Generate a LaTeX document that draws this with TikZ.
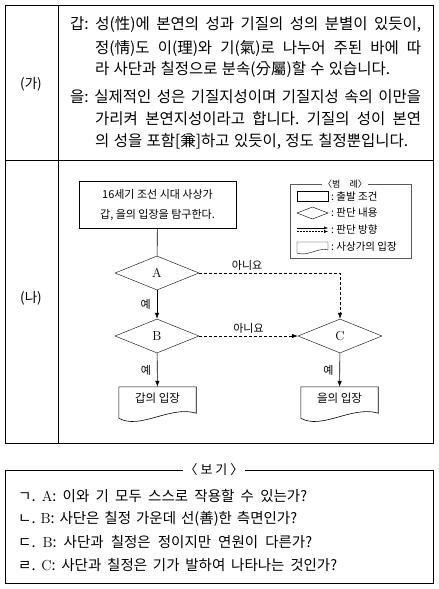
\documentclass[tikz,border=0pt]{standalone}
\usepackage{fontspec}
\newfontfamily\kr{Noto Sans CJK KR}
\usetikzlibrary{shapes.geometric,arrows.meta,positioning}
\newcommand{\fs}[1]{\fontsize{#1}{#1}\selectfont}
\frenchspacing

\tikzset{
  decision/.style={draw,diamond,inner sep=0pt,minimum width=84pt,minimum height=34pt,font=\fs{13}},
  topicbox/.style={draw,rectangle,minimum width=157pt,minimum height=47pt,align=center,font=\kr\fontsize{11}{20}\selectfont},
  docbox/.style={minimum width=77pt,minimum height=22pt,inner sep=0pt,font=\kr\fs{11.5}},
  flow/.style={-{Latex[length=6pt,width=4.5pt]},semithick},
  noflow/.style={flow,dash pattern=on 3pt off 2pt},
  lbl/.style={font=\kr\fs{11}},
  para/.style={anchor=west,inner sep=0pt,font=\kr\fs{15.5}},
  legtext/.style={anchor=west,inner sep=0pt,font=\kr\fs{10.5}},
}

\begin{document}
\begin{tikzpicture}[x=1pt,y=-1pt]
\useasboundingbox (0,0) rectangle (439,589);
% table
\draw[line width=0.8pt] (5,5) rectangle (433,443);
\draw[line width=0.8pt] (5,160) -- (433,160);
\draw[line width=0.8pt] (58,5) -- (58,443);
\node[font=\kr\fs{13.5}] (ga) at (31,84) {(가)};
\node[font=\kr\fs{13.5}] (na) at (31,298) {(나)};

% (ga) text
\foreach \x/\y/\w/\t [count=\i] in {
  70/25/351/{갑: 성(性)에 본연의 성과 기질의 성의 분별이 있듯이,},
  95/48/326/{정(情)도 이(理)와 기(氣)로 나누어 주된 바에 따},
  95/70/295/{라 사단과 칠정으로 분속(分屬)할 수 있습니다.},
  70/97/351/{을: 실제적인 성은 기질지성이며 기질지성 속의 이만을},
  95/119/326/{가리켜 본연지성이라고 합니다. 기질의 성이 본연},
  95/142/313/{의 성을 포함[兼]하고 있듯이, 정도 칠정뿐입니다.}}
  {\node[para] (line\i) at (\x,\y) {\makebox[\w pt][s]{\t}};}

% (na) flow chart
\node[topicbox] (topic) at (157.5,204.5) {16세기 조선 시대 사상가\\갑, 을의 입장을 탐구한다.};
\node[decision] (A) at (157,273) {A};
\node[decision] (B) at (157,336) {B};
\node[decision] (C) at (340,336) {C};
\node[docbox] (gap) at (157.5,398) {갑의 입장};
\node[docbox] (eul) at (339.5,398) {을의 입장};
\foreach \n in {gap,eul}
  \draw[semithick] ([yshift=-9pt]\n.south west) -- (\n.north west) -- (\n.north east)
    -- ([yshift=-4pt]\n.south east) .. controls +(-26pt,8pt) and +(21pt,-12pt) .. ([yshift=-9pt]\n.south west);

\draw[semithick] (topic) -- (A);
\draw[flow] (A) -- node[lbl,left,inner sep=6pt] {예} (B);
\draw[flow] (B) -- node[lbl,left,inner sep=6pt] {예} (gap);
\draw[flow] (C) -- node[lbl,left,inner sep=6pt] {예} (eul);
\draw[noflow] (A) -| node[lbl,above,pos=0.17,inner sep=2pt] {아니요} (C);
\draw[noflow] (B) -- node[lbl,above,inner sep=2pt] {아니요} (C);

% legend
\draw[gray!70!black,thin] (290,184) rectangle (411,258);
\node[fill=white,inner sep=1pt,font=\kr\fs{9}] (legtitle) at (345,184) {〈범\quad 례〉};
\draw[thin] (297,191) rectangle (328,201);
\node[legtext] (leg1) at (331,196) {: 출발 조건};
\draw[thin] (297,213) -- (312.5,207) -- (328,213) -- (312.5,219) -- cycle;
\node[legtext] (leg2) at (331,213) {: 판단 내용};
\draw[thin,-{Latex[length=4pt,width=3pt]}] (297,228) -- (328,228);
\draw[thin,dash pattern=on 2pt off 1pt,-{Latex[length=4pt,width=3pt]}] (297,231.5) -- (328,231.5);
\node[legtext] (leg3) at (331,230) {: 판단 방향};
\draw[thin] (297,253) -- (297,242) -- (328,242) -- (328,250) .. controls (318,247) and (308,257) .. (297,253);
\node[legtext] (leg4) at (331,247) {: 사상가의 입장};

% bogi
\draw[line width=0.8pt] (5,470) rectangle (433,583);
\node[fill=white,inner sep=2pt,font=\kr\fs{13}] (bogi) at (214,470) {〈 보 기 〉};
\foreach \y/\w/\t [count=\i] in {
  496/289/{ㄱ. {\rmfamily A}: 이와 기 모두 스스로 작용할 수 있는가?},
  519/279/{ㄴ. {\rmfamily B}: 사단은 칠정 가운데 선(善)한 측면인가?},
  542/294/{ㄷ. {\rmfamily B}: 사단과 칠정은 정이지만 연원이 다른가?},
  565/319/{ㄹ. {\rmfamily C}: 사단과 칠정은 기가 발하여 나타나는 것인가?}}
  {\node[para,font=\kr\fs{14.5}] (item\i) at (18,\y) {\makebox[\w pt][s]{\t}};}
\end{tikzpicture}
\end{document}
